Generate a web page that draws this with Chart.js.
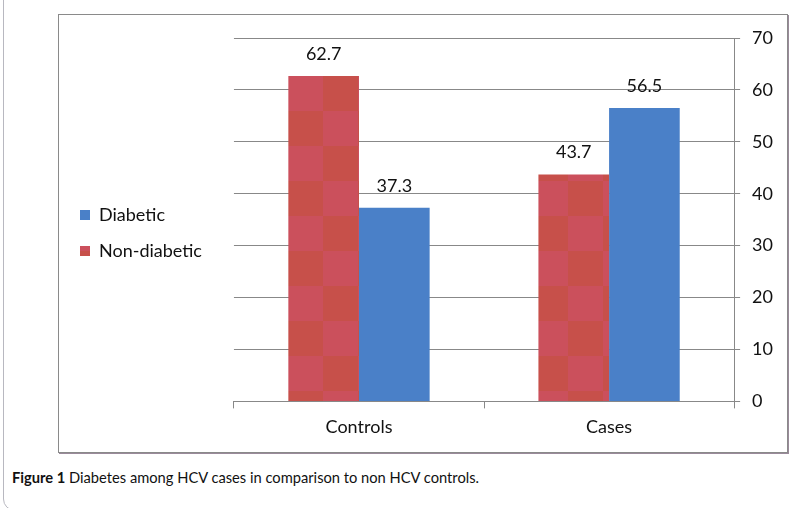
<!DOCTYPE html>
<html lang="en">
  <head>
    <meta charset="UTF-8" />
    <title>Diabetes among HCV cases</title>
    <script src="https://cdn.jsdelivr.net/npm/chart.js@4.4.1/dist/chart.umd.min.js"></script>
    <style>
      body { margin: 0; background: #fff; width: 808px; height: 508px; overflow: hidden; position: relative; font-family: Lato, "Open Sans", sans-serif; }
      #page { position: absolute; left: 3px; top: -20px; width: 900px; height: 529px; border: 1px solid #b8b8c0; border-radius: 12px; }
      #frame { position: absolute; left: 58px; top: 14px; width: 728px; height: 437px; border: 1px solid #8a8a8a; box-shadow: 1px 1px 0 #9a8a9a; }
      #frame canvas { position: absolute; left: 0; top: 0; }
      #caption { position: absolute; left: 12px; top: 468px; font-size: 14.7px; color: #111; }
    </style>
  </head>
  <body>
    <div id="page"></div>
    <div id="frame"><canvas id="chart" width="728" height="437"></canvas></div>
    <div id="caption"><b>Figure 1</b> Diabetes among HCV cases in comparison to non HCV controls.</div>

    <script>
      const groups = ["Controls", "Cases"];
      const nonDiabetic = [62.7, 43.7];
      const diabetic = [37.3, 56.5];
      const yTicks = [0, 10, 20, 30, 40, 50, 60, 70];

      // checkered red fill, like the original figure
      function checker() {
        const c = document.createElement("canvas");
        c.width = 70;
        c.height = 70;
        const g = c.getContext("2d");
        g.fillStyle = "rgb(199, 80, 74)";
        g.fillRect(0, 0, 70, 70);
        g.fillStyle = "rgb(203, 80, 92)";
        g.fillRect(35, 0, 35, 35);
        g.fillRect(0, 35, 35, 35);
        const p = g.createPattern(c, "repeat");
        p.setTransform(new DOMMatrix().translate(19, 26));
        return p;
      }

      const valueLabels = {
        id: "valueLabels",
        afterDatasetsDraw(chart) {
          const ctx = chart.ctx;
          ctx.save();
          ctx.font = "18px Lato";
          ctx.fillStyle = "#111";
          ctx.textAlign = "center";
          ctx.textBaseline = "bottom";
          chart.data.datasets.forEach((ds, i) => {
            chart.getDatasetMeta(i).data.forEach((bar, j) => {
              ctx.fillText(ds.data[j].toFixed(1), bar.x, bar.y - 13);
            });
          });
          ctx.restore();
        },
      };

      // nudge the legend block up and left
      const legendShift = {
        id: "legendShift",
        afterLayout(chart) {
          const l = chart.legend;
          l.left -= 22;
          l.right -= 22;
          l.top -= 9;
          l.bottom -= 9;
        },
      };

      const ctx = document.getElementById("chart").getContext("2d");
      const chart = new Chart(ctx, {
        type: "bar",
        data: {
          labels: groups,
          datasets: [
            { label: "Non-diabetic", data: nonDiabetic, backgroundColor: checker() },
            { label: "Diabetic", data: diabetic, backgroundColor: "rgb(74, 128, 200)" },
          ],
        },
        options: {
          responsive: false,
          animation: false,
          layout: { padding: { left: 25, right: 2, top: 23, bottom: 6 } },
          datasets: { bar: { barPercentage: 1, categoryPercentage: 0.565 } },
          scales: {
            x: {
              grid: { offset: true, drawOnChartArea: false, tickLength: 7, color: "#888" },
              border: { color: "#888" },
              ticks: { color: "#111", font: { family: "Lato", size: 18 }, padding: 8 },
            },
            y: {
              position: "right",
              min: 0,
              max: 70,
              afterBuildTicks: (s) => { s.ticks = yTicks.map((v) => ({ value: v })); },
              grid: { color: "#888", tickLength: 6 },
              border: { color: "#888" },
              ticks: { color: "#111", font: { family: "Lato", size: 18 }, padding: 12 },
            },
          },
          plugins: {
            legend: {
              position: "left",
              reverse: true,
              labels: {
                boxWidth: 10,
                boxHeight: 10,
                padding: 18,
                color: "#111",
                font: { family: "Lato", size: 18 },
              },
            },
            tooltip: { enabled: false },
          },
        },
        plugins: [valueLabels, legendShift],
      });
    </script>
  </body>
</html>
